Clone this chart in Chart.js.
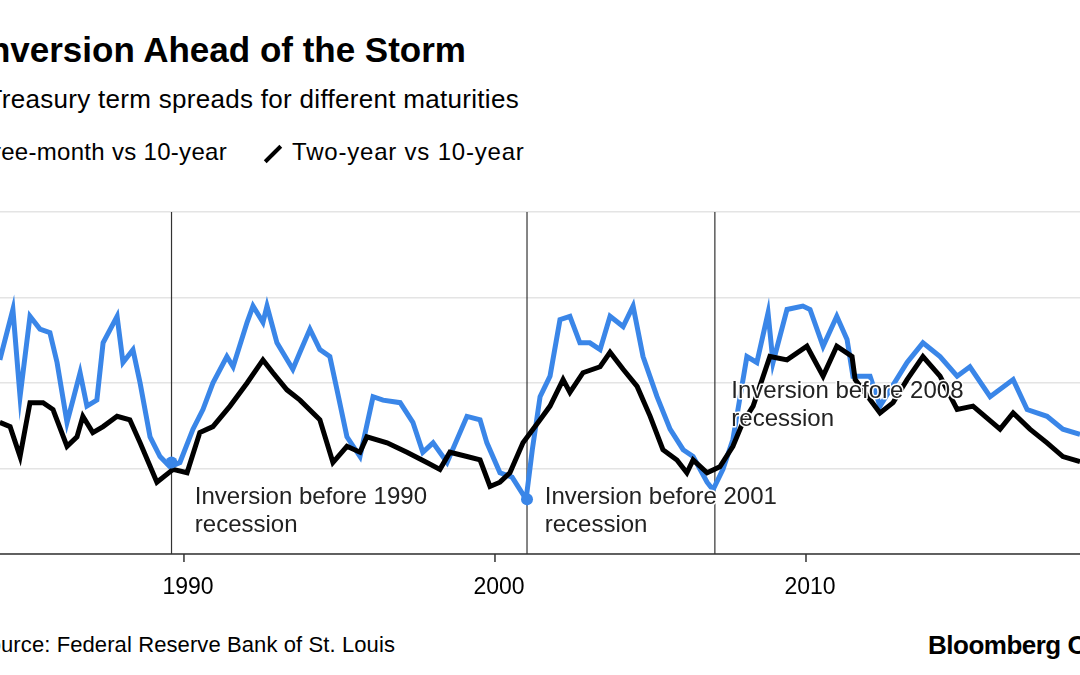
<!DOCTYPE html>
<html>
<head>
<meta charset="utf-8">
<script src="https://cdn.jsdelivr.net/npm/chart.js@4"></script>
<style>
  body { margin: 0; width: 1080px; height: 675px; overflow: hidden; position: relative; background: #fff; font-family: "Liberation Sans", Arial, sans-serif; color: #000; }
  .txt { position: absolute; white-space: nowrap; }
  #wrap { position: absolute; left: -100px; top: 0; width: 1180px; height: 675px; }
</style>
</head>
<body>
<div class="txt" style="right:614px; top:30px; font-size:35px; font-weight:bold;">Yield Curve Inversion Ahead of the Storm</div>
<div class="txt" style="right:561px; top:84px; font-size:26px; letter-spacing:0.3px;">Treasury term spreads for different maturities</div>
<div class="txt" style="right:853px; top:138px; font-size:24px; letter-spacing:0.3px;">Three-month vs 10-year</div>
<div class="txt" style="left:262px; top:138px; font-size:24px; letter-spacing:0.8px;"><span style="display:inline-block;width:22px;height:4px;background:#000;transform:rotate(-45deg);vertical-align:middle;margin-right:8px;"></span>Two-year vs 10-year</div>
<div class="txt" style="right:685px; top:632px; font-size:22px; letter-spacing:0.1px;">Source: Federal Reserve Bank of St. Louis</div>
<div class="txt" style="left:928px; top:630px; font-size:26px; font-weight:bold; letter-spacing:-0.5px;">Bloomberg Opinion</div>
<div id="wrap"><canvas id="c"></canvas></div>
<script>
const blueYears = [1984.08,1984.50,1984.73,1985.05,1985.37,1985.69,1985.92,1986.24,1986.43,1986.66,1986.88,1987.20,1987.40,1987.85,1988.04,1988.36,1988.59,1988.91,1989.23,1989.55,1989.87,1990.29,1990.61,1990.93,1991.38,1991.58,1992.03,1992.22,1992.54,1992.67,1992.99,1993.50,1993.73,1994.05,1994.37,1994.69,1994.92,1995.24,1995.66,1996.08,1996.40,1996.95,1997.36,1997.68,1998.01,1998.46,1999.10,1999.52,1999.74,2000.16,2000.55,2001.00,2001.20,2001.45,2001.77,2002.09,2002.41,2002.73,2003.05,2003.38,2003.70,2004.12,2004.44,2004.76,2005.21,2005.63,2006.05,2006.37,2006.82,2007.01,2007.33,2007.65,2008.10,2008.42,2008.78,2008.94,2009.39,2009.90,2010.13,2010.55,2010.99,2011.32,2011.51,2012.06,2012.38,2013.25,2013.76,2014.31,2014.86,2015.27,2015.92,2016.66,2017.11,2017.75,2018.26,2018.81];
const blueValues = [1.27,1.86,0.84,1.78,1.63,1.59,1.24,0.54,0.80,1.12,0.73,0.80,1.47,1.78,1.24,1.39,1.00,0.37,0.14,0.02,0.07,0.46,0.69,1.00,1.31,1.19,1.71,1.90,1.71,1.90,1.47,1.16,1.36,1.63,1.39,1.31,0.92,0.37,0.14,0.84,0.80,0.77,0.54,0.19,0.30,0.07,0.61,0.57,0.30,-0.05,-0.10,-0.36,0.22,0.84,1.08,1.74,1.78,1.47,1.47,1.39,1.78,1.66,1.90,1.31,0.84,0.46,0.22,0.14,-0.16,-0.25,-0.01,0.34,1.31,1.24,1.82,1.24,1.86,1.90,1.86,1.43,1.78,1.51,1.08,1.08,0.73,1.24,1.47,1.31,1.08,1.19,0.84,1.04,0.69,0.61,0.46,0.40];
const blackYears = [1984.08,1984.41,1984.73,1985.05,1985.47,1985.79,1986.24,1986.56,1986.75,1987.07,1987.40,1987.85,1988.26,1988.59,1989.13,1989.65,1990.10,1990.51,1990.93,1991.48,1992.03,1992.54,1992.86,1993.31,1993.73,1994.37,1994.79,1995.24,1995.66,1995.88,1996.53,1997.17,1997.81,1998.23,1998.55,1999.10,1999.52,1999.84,2000.16,2000.48,2000.90,2001.45,2001.77,2002.19,2002.41,2002.83,2003.38,2003.70,2004.12,2004.57,2004.99,2005.40,2005.85,2006.17,2006.37,2006.82,2007.23,2007.65,2007.97,2008.30,2008.84,2009.39,2010.03,2010.55,2010.99,2011.48,2011.58,2012.38,2012.80,2013.25,2013.76,2014.31,2014.86,2015.37,2016.24,2016.66,2017.20,2017.75,2018.26,2018.81];
const blackValues = [0.54,0.49,0.14,0.77,0.77,0.69,0.26,0.37,0.61,0.42,0.49,0.61,0.57,0.30,-0.16,-0.01,-0.05,0.42,0.49,0.73,1.00,1.27,1.12,0.92,0.80,0.57,0.07,0.26,0.19,0.37,0.30,0.19,0.07,-0.01,0.19,0.14,0.10,-0.21,-0.16,-0.05,0.30,0.57,0.73,1.04,0.89,1.12,1.19,1.36,1.16,0.96,0.61,0.22,0.10,-0.05,0.10,-0.05,0.02,0.26,0.54,0.73,1.31,1.27,1.43,1.08,1.43,1.31,1.04,0.65,0.77,1.04,1.31,1.08,0.69,0.73,0.46,0.65,0.46,0.30,0.14,0.08];
const yearTicks = [1990, 2000, 2010, 2020];
const inversions = [
  { year: 1989.6, dotValue: 0.07, lines: ["Inversion before 1990", "recession"], textYear: 1990.35, textValue: -0.34 },
  { year: 2001.03, dotValue: -0.36, lines: ["Inversion before 2001", "recession"], textYear: 2001.6, textValue: -0.34 },
  { year: 2007.07, dotValue: null, lines: ["Inversion before 2008", "recession"], textYear: 2007.6, textValue: 0.9 }
];

const pts = (xs, ys) => xs.map((x, i) => ({ x: x, y: ys[i] }));

const overlay = {
  id: "overlay",
  beforeDatasetsDraw(chart) {
    const { ctx, chartArea, scales: { x } } = chart;
    ctx.save();
    ctx.strokeStyle = "#333";
    ctx.lineWidth = 1.2;
    inversions.forEach(inv => {
      const px = x.getPixelForValue(inv.year);
      ctx.beginPath(); ctx.moveTo(px, chartArea.top); ctx.lineTo(px, chartArea.bottom); ctx.stroke();
    });
    ctx.restore();
  },
  afterDatasetsDraw(chart) {
    const { ctx, chartArea, scales: { x, y } } = chart;
    ctx.save();
    ctx.strokeStyle = "#333"; ctx.lineWidth = 1.5;
    ctx.beginPath(); ctx.moveTo(chartArea.left, chartArea.bottom); ctx.lineTo(chartArea.right, chartArea.bottom); ctx.stroke();
    ctx.fillStyle = "#000";
    ctx.font = "23px 'Liberation Sans', Arial, sans-serif";
    ctx.textAlign = "center"; ctx.textBaseline = "top";
    yearTicks.forEach(t => {
      const px = x.getPixelForValue(t);
      ctx.beginPath(); ctx.moveTo(px, chartArea.bottom); ctx.lineTo(px, chartArea.bottom + 8); ctx.stroke();
      ctx.fillText(String(t), px + 4, chartArea.bottom + 22);
    });
    inversions.forEach(inv => {
      if (inv.dotValue !== null) {
        ctx.fillStyle = "#3a86e8";
        ctx.beginPath(); ctx.arc(x.getPixelForValue(inv.year), y.getPixelForValue(inv.dotValue), 6, 0, Math.PI * 2); ctx.fill();
      }
      ctx.textAlign = "left"; ctx.textBaseline = "middle";
      ctx.font = "24px 'Liberation Sans', Arial, sans-serif";
      const tx = x.getPixelForValue(inv.textYear);
      const ty = y.getPixelForValue(inv.textValue);
      inv.lines.forEach((l, i) => {
        ctx.strokeStyle = "#fff"; ctx.lineWidth = 3; ctx.lineJoin = "round";
        ctx.strokeText(l, tx, ty + i * 28);
        ctx.fillStyle = "#222";
        ctx.fillText(l, tx, ty + i * 28);
      });
    });
    ctx.restore();
  }
};

new Chart(document.getElementById("c"), {
  type: "line",
  data: {
    datasets: [
      { label: "Two-year vs 10-year", data: pts(blackYears, blackValues), borderColor: "#000", borderWidth: 5, pointRadius: 0, tension: 0 },
      { label: "Three-month vs 10-year", data: pts(blueYears, blueValues), borderColor: "#3a86e8", borderWidth: 5, pointRadius: 0, tension: 0 }
    ]
  },
  options: {
    responsive: true,
    maintainAspectRatio: false,
    animation: false,
    layout: { padding: { top: 212, bottom: 121, left: 0, right: 0 } },
    plugins: { legend: { display: false }, tooltip: { enabled: false } },
    scales: {
      x: { type: "linear", min: 1980.87, max: 2018.81, display: false },
      y: { min: -1, max: 3, ticks: { display: false, stepSize: 1 }, border: { display: false }, grid: { color: "#e4e4e4", lineWidth: 1.5, drawTicks: false } }
    }
  },
  plugins: [overlay]
});
</script>
</body>
</html>
